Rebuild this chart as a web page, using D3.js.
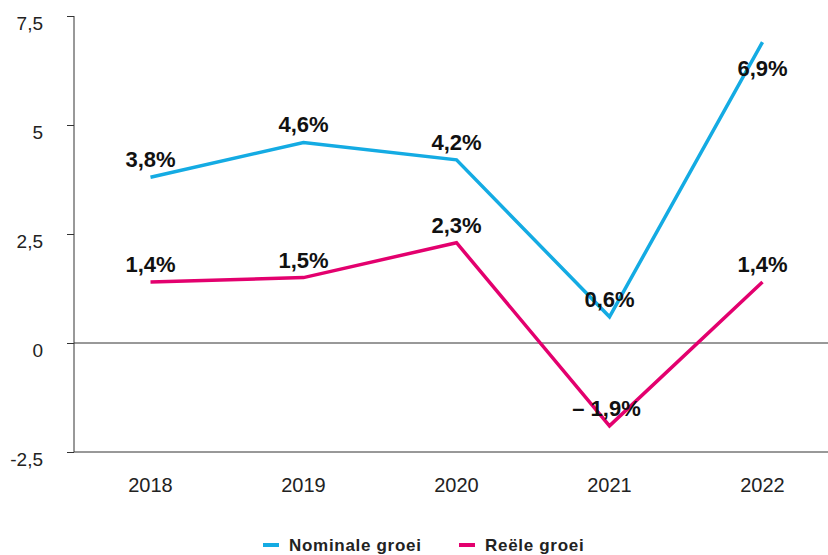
<!DOCTYPE html>
<html><head><meta charset="utf-8">
<script src="https://cdn.jsdelivr.net/npm/d3@7"></script>
<style>body{margin:0;background:#fff}text{font-family:"Liberation Sans",Arial,sans-serif}</style>
</head><body><svg id="c" width="828" height="555"></svg>
<script>
const years = ["2018","2019","2020","2021","2022"];
const nominal = [3.8, 4.6, 4.2, 0.6, 6.9];
const real = [1.4, 1.5, 2.3, -1.9, 1.4];
const nominalLabels = ["3,8%","4,6%","4,2%","0,6%","6,9%"];
const realLabels = ["1,4%","1,5%","2,3%","\u2013 1,9%","1,4%"];
const yTicks = [-2.5, 0, 2.5, 5, 7.5];
const yTickLabels = ["-2,5","0","2,5","5","7,5"];
const seriesNames = ["Nominale groei","Reële groei"];
const colors = ["#14ABE3","#E3006E"];

const svg = d3.select("#c");
const x = d3.scaleBand().domain(years).range([74, 839]);
const y = d3.scaleLinear().domain([-2.5, 7.5]).range([452, 16]);
const cx = d => x(d) + x.bandwidth()/2;

// y axis
const yAxis = d3.axisLeft(y).tickValues(yTicks).tickFormat((d,i)=>yTickLabels[i]).tickSize(7).tickPadding(24);
const ga = svg.append("g").attr("transform","translate(74,0)").call(yAxis);
ga.select(".domain").attr("stroke","#333").attr("d","M0,16V452");
ga.selectAll(".tick line").attr("stroke","#333");
ga.selectAll(".tick text").attr("font-size",19).attr("fill","#222").attr("dy","0.72em");
// baseline and zero line
svg.append("line").attr("x1",74).attr("x2",828).attr("y1",y(-2.5)).attr("y2",y(-2.5)).attr("stroke","#333");
svg.append("line").attr("x1",74).attr("x2",828).attr("y1",y(0)).attr("y2",y(0)).attr("stroke","#333");

// x labels
const xAxis = d3.axisBottom(x).tickSize(0).tickPadding(26);
const gx = svg.append("g").attr("transform",`translate(0,${y(-2.5)})`).call(xAxis);
gx.select(".domain").remove();
gx.selectAll(".tick text").attr("font-size",20).attr("fill","#222");

const line = d3.line().x((d,i)=>cx(years[i])).y(d=>y(d));
[nominal, real].forEach((s,k)=>{
  svg.append("path").datum(s).attr("d",line).attr("fill","none").attr("stroke",colors[k]).attr("stroke-width",3.5).attr("stroke-linejoin","miter");
});

function labels(vals, labs){
  const top = d3.max(vals);
  svg.append("g").selectAll("text").data(vals).join("text")
    .attr("x",(d,i)=>cx(years[i]) + (labs[i].startsWith("\u2013") ? -3 : 0))
    .attr("y",(d,i)=> (d===top && y(d) < 60) ? y(d)+34 : y(d)-10)
    .attr("text-anchor","middle").attr("font-size",22).attr("font-weight","bold").attr("fill","#111")
    .text((d,i)=>labs[i]);
}
labels(nominal, nominalLabels);
labels(real, realLabels);

// legend
const lg = svg.append("g");
const lx = [263, 459];
seriesNames.forEach((n,i)=>{
  lg.append("rect").attr("x",lx[i]).attr("y",543).attr("width",16).attr("height",4).attr("fill",colors[i]);
  lg.append("text").attr("x",lx[i]+26).attr("y",551).attr("font-size",17).attr("font-weight","bold").attr("letter-spacing","0.7px").attr("fill","#222").text(n);
});
</script></body></html>
